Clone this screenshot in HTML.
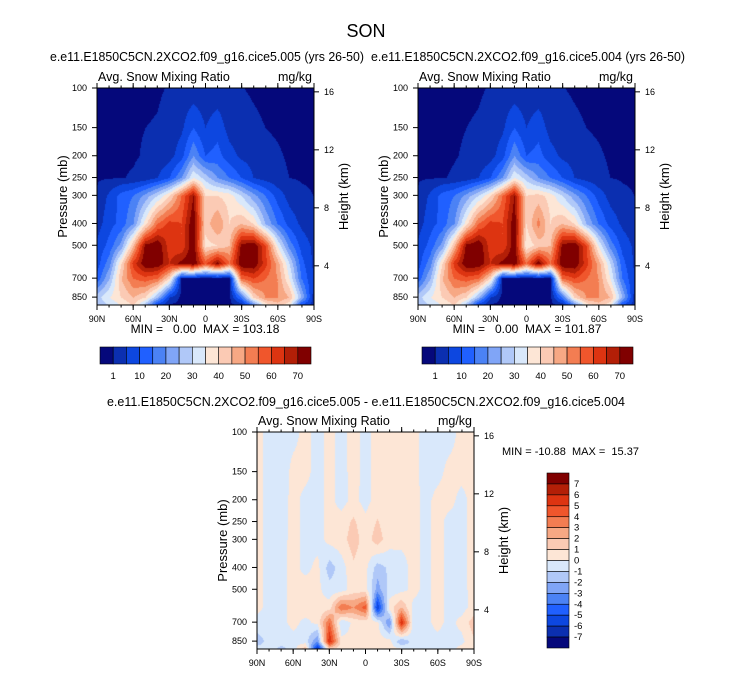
<!DOCTYPE html>
<html><head><meta charset="utf-8">
<style>
body{margin:0;width:733px;height:673px;background:#fff;position:relative;overflow:hidden;font-family:"Liberation Sans",Arial,sans-serif}
canvas{position:absolute}
svg{position:absolute;left:0;top:0}
text{white-space:pre}
</style></head><body>
<canvas id="c1" width="217" height="217" style="left:97px;top:88px"></canvas>
<canvas id="c2" width="217" height="217" style="left:418px;top:88px"></canvas>
<canvas id="c3" width="217" height="217" style="left:257px;top:432px"></canvas>
<svg id="ov" width="733" height="673"></svg>
<script>
// ---- data ----
const lats = [90,80,70,60,50,40,30,20,10,0,-10,-20,-30,-40,-50,-60,-70,-80,-90];
const pLevels = [100,150,200,250,300,400,500,600,700,850,925];
const fieldA = [
 [0.3,0.3,0.3,0.4,0.5,0.7,1.2,1.5,1.8,1.5,1.8,1.4,1.1,0.7,0.4,0.3,0.3,0.3,0.3],
 [0.5,0.5,0.6,0.8,1,1.2,2,4,10,5,8,3,2,1.5,1,0.8,0.6,0.5,0.5],
 [0.5,0.6,0.7,0.8,1.2,1.5,3,8,20,10,12,7,4,3,1.5,1.2,0.8,0.6,0.5],
 [0.7,0.8,0.9,1.2,2,5,10,20,35,28,20,15,10,5,3,1.5,1,0.8,0.7],
 [1.5,6,12,15,22,30,40,55,70,40,40,38,30,22,15,8,3,1.5,1],
 [3,8,12,20,38,55,62,60,75,42,50,40,45,40,25,15,8,4,2],
 [6,12,22,45,72,75,62,60,75,38,40,45,72,75,60,35,18,8,4],
 [8,18,40,62,75,75,65,72,75,58,72,55,75,75,62,48,30,12,4],
 [12,25,45,55,58,55,40,0,0,0,0,0,55,60,55,50,35,15,5],
 [28,35,40,45,40,25,5,0,0,0,0,0,15,40,50,50,45,25,3],
 [25,30,35,40,25,5,0,0,0,0,0,0,0,15,35,42,35,8,3]
];
const fieldB = [
 [0.3,0.3,0.3,0.4,0.5,0.7,1.2,1.5,1.8,1.5,1.8,1.4,1.1,0.7,0.4,0.3,0.3,0.3,0.3],
 [0.5,0.5,0.6,0.8,1,1.3,2,4,10,5,8,3,2,1.5,1,0.8,0.6,0.5,0.5],
 [0.5,0.6,0.7,0.9,1.2,1.6,3,8,20,10,12,7,4,3,1.5,1.2,0.8,0.6,0.5],
 [0.7,0.8,0.9,1.2,2,5,10,20,35,28,20,15,10,5,3,1.5,1,0.8,0.7],
 [1.5,6,12,15,22,30,40,55,70,40,42,38,30,22,15,8,3,1.5,1],
 [3,8,12,20,38,55,62,60,74,40,52,40,45,40,25,15,8,4,2],
 [6,12,22,45,72,75,62,60,74,36,42,45,72,75,60,35,18,8,4],
 [8,18,40,62,75,75,65,72,75,55,74,55,75,75,62,48,30,12,4],
 [12,25,45,55,58,55,40,0,0,0,0,0,55,60,55,50,35,15,5],
 [28,35,40,45,40,25,5,0,0,0,0,0,15,40,50,50,45,25,3],
 [25,30,35,40,25,5,0,0,0,0,0,0,0,15,35,42,35,8,3]
];
const fieldDiff = [
 [0.3,-0.4,-0.4,-0.3,0.3,-0.4,0.3,-0.3,0.4,-0.3,0.3,0.3,0.3,0.3,-0.3,-0.4,-0.4,0.3,0.4],
 [0.3,-0.4,-0.5,0.3,0.3,-0.4,0.3,-0.4,0.4,-0.3,0.4,0.3,0.4,0.3,-0.4,-0.3,0.3,0.3,0.4],
 [0.3,-0.4,-0.4,0.3,-0.3,-0.4,0.3,-0.4,0.3,-0.4,0.4,0.3,0.3,0.4,-0.3,0.3,0.3,-0.3,0.3],
 [0.3,-0.4,-0.4,0.3,-0.3,-0.4,0.3,0.4,1.2,0.3,1.1,0.3,0.3,0.4,-0.3,0.3,-0.3,-0.3,0.3],
 [0.3,-0.4,-0.3,0.3,-0.3,-0.4,0.3,0.6,1.5,0.5,1.5,0.4,0.3,0.4,-0.3,0.3,-0.3,-0.3,0.3],
 [0.3,-0.4,-0.3,0.3,-0.3,0.3,-1.5,-0.5,0.8,0.3,-1.5,-0.8,-0.5,0.4,-0.3,0.3,-0.3,-0.3,0.3],
 [0.3,-0.4,-0.3,0.3,0.6,0.3,-0.6,-0.5,0.5,0.5,-2.5,-0.6,-0.3,0.3,-0.3,0.3,-0.3,-0.3,0.3],
 [0.3,-0.4,-0.3,0.3,0.6,0.3,0.5,4,3,4.5,-6,0.5,2,-0.3,-0.3,0.3,-0.3,-0.4,0.3],
 [-0.4,-0.4,-0.3,0.3,-0.3,0.3,4,-1,0.3,0.4,0.3,-3,6,-0.6,-0.3,0.3,-0.3,0.3,1.5],
 [-1.5,-0.6,-0.5,-0.4,-0.5,-3,6,0.4,0.4,0.4,0.4,0.4,-2,-0.5,-0.3,-0.3,-0.3,-0.3,0.8],
 [-0.5,-0.5,-1.5,-0.5,2,-7,0.4,0.4,0.4,0.4,0.4,0.4,0.4,-0.8,-0.3,-0.3,-0.3,0.4,0.5]
];
const levelsA = [1,5,10,15,20,25,30,35,40,45,50,55,60,65,70];
const levelsDiff = [-7,-6,-5,-4,-3,-2,-1,0,1,2,3,4,5,6,7];
const cbLabelsA = ['1','10','20','30','40','50','60','70'];
const cbLabelsDiff = ['7','6','5','4','3','2','1','0','-1','-2','-3','-4','-5','-6','-7'];
const xTicks = ['90N','60N','30N','0','30S','60S','90S'];
const pTicks = [100,150,200,250,300,400,500,700,850];
const zTicks = [16,12,8,4];
const colors = ['#05087b','#0b2fb0','#0d47e0','#2060ff','#4b82f5','#80a5f7','#b0c8f8','#d9e8fb','#fde6d6','#fbcab4','#f7a884','#f37d52','#f0562c','#dd3411','#b31f07','#800000'];

const W=217,H=217,PT=225;
function pToY(p){return PT*(Math.log10(p)-2);}
function zToP(z){return 1117*Math.exp(-z/6.74);}
function drawField(id,grid,levels){
  const cv=document.getElementById(id),ctx=cv.getContext('2d'),img=ctx.createImageData(W,H);
  const rows=pLevels.map(pToY);
  const rgb=colors.map(c=>[1,3,5].map(i=>parseInt(c.substr(i,2),16)));
  for(let y=0;y<H;y++){
    let r=0;while(r<rows.length-2&&rows[r+1]<y)r++;
    let ty=Math.min(1,Math.max(0,(y-rows[r])/(rows[r+1]-rows[r])));
    for(let x=0;x<W;x++){
      const lat=90-180*x/(W-1);
      let fc=(90-lat)/10,c=Math.min(lats.length-2,Math.floor(fc)),tx=fc-c;
      const v=(grid[r][c]*(1-tx)+grid[r][c+1]*tx)*(1-ty)+(grid[r+1][c]*(1-tx)+grid[r+1][c+1]*tx)*ty;
      let k=0;while(k<levels.length&&v>=levels[k])k++;
      const o=(y*W+x)*4,col=rgb[k];
      img.data[o]=col[0];img.data[o+1]=col[1];img.data[o+2]=col[2];img.data[o+3]=255;
    }
  }
  ctx.putImageData(img,0,0);
}
drawField('c1',fieldA,levelsA);
drawField('c2',fieldB,levelsA);
drawField('c3',fieldDiff,levelsDiff);

const NS='http://www.w3.org/2000/svg',ov=document.getElementById('ov');
function el(tag,attrs,parent,txt){const e=document.createElementNS(NS,tag);for(const k in attrs)e.setAttribute(k,attrs[k]);if(txt!==undefined)e.textContent=txt;(parent||ov).appendChild(e);return e;}
function txt(x,y,s,size,anchor,name,rot,len){
  const t=el('text',{x:x,y:y,'font-size':size,'text-anchor':anchor||'start',fill:'#000','font-family':'Liberation Sans, sans-serif'},ov,s);
  if(rot)t.setAttribute('transform','rotate(-90 '+x+' '+y+')');
  if(len){t.setAttribute('textLength',len);t.setAttribute('lengthAdjust','spacingAndGlyphs');}
  
  
  return t;
}
function axes(x0,y0,pref){
  const g=el('g',{},ov);
  
  
  el('rect',{x:x0,y:y0,width:W,height:H,fill:'none',stroke:'#000','stroke-width':1},g);
  xTicks.forEach((s,i)=>{const x=x0+i*W/6;
    el('line',{x1:x,x2:x,y1:y0+H,y2:y0+H+5,stroke:'#000'},g);
    el('line',{x1:x,x2:x,y1:y0,y2:y0-5,stroke:'#000'},g);
    txt(x,y0+H+17,s,9,'middle',pref+'-x-tick-label');});
  for(let i=0;i<=18;i++){const x=x0+i*W/18;el('line',{x1:x,x2:x,y1:y0+H,y2:y0+H+2.5,stroke:'#000'},g);el('line',{x1:x,x2:x,y1:y0,y2:y0-2.5,stroke:'#000'},g);}
  pTicks.forEach(p=>{const y=y0+pToY(p);
    el('line',{x1:x0-5,x2:x0,y1:y,y2:y,stroke:'#000'},g);
    txt(x0-10,y+3,String(p),9,'end',pref+'-pressure-tick-label');});
  zTicks.forEach(z=>{const y=y0+pToY(zToP(z));
    el('line',{x1:x0+W,x2:x0+W+5,y1:y,y2:y,stroke:'#000'},g);
    txt(x0+W+10,y+3,String(z),9,'start',pref+'-height-tick-label');});
  txt(x0-30,y0+H/2,'Pressure (mb)',13,'middle',pref+'-y-axis-title',true);
  txt(x0+W+34,y0+H/2,'Height (km)',13,'middle',pref+'-right-axis-title',true);
  txt(x0+1,y0-7,'Avg. Snow Mixing Ratio',12.5,'start',pref+'-left-string');
  txt(x0+W-2,y0-7,'mg/kg',12.5,'end',pref+'-units');
}
function hbar(x0,y0,w,h,pref){
  const bw=w/16;
  colors.forEach((c,i)=>{const r=el('rect',{x:x0+i*bw,y:y0,width:bw,height:h,fill:c,stroke:'#000','stroke-width':0.6});
    
    });
  cbLabelsA.forEach((s,i)=>txt(x0+(1+2*i)*bw,y0+h+15,s,9.5,'middle',pref+'-colorbar-label'));
}
function vbar(x0,y0,w,h){
  const bh=h/16;
  colors.slice().reverse().forEach((c,i)=>{const r=el('rect',{x:x0,y:y0+i*bh,width:w,height:bh,fill:c,stroke:'#000','stroke-width':0.6});
    
    });
  cbLabelsDiff.forEach((s,i)=>txt(x0+w+5,y0+(i+1)*bh+3,s,9.5,'start','diff-colorbar-label'));
}
txt(366,37,'SON',18,'middle','main-title');
txt(207,61,'e.e11.E1850C5CN.2XCO2.f09_g16.cice5.005 (yrs 26-50)',13,'middle','plot-a-title',false,314);
txt(528,61,'e.e11.E1850C5CN.2XCO2.f09_g16.cice5.004 (yrs 26-50)',13,'middle','plot-b-title',false,314);
txt(366,406,'e.e11.E1850C5CN.2XCO2.f09_g16.cice5.005 - e.e11.E1850C5CN.2XCO2.f09_g16.cice5.004',13,'middle','diff-plot-title',false,518);
axes(97,88,'plot-a');axes(418,88,'plot-b');axes(257,432,'diff-plot');
txt(205,333,'MIN =   0.00  MAX = 103.18',12,'middle','plot-a-minmax');
txt(527,333,'MIN =   0.00  MAX = 101.87',12,'middle','plot-b-minmax');
txt(502,455,'MIN = -10.88  MAX =  15.37',11,'start','diff-minmax');
hbar(100,347,211,17,'plot-a');hbar(422,347,211,17,'plot-b');
vbar(547,473,22,175);
</script>
</body></html>
